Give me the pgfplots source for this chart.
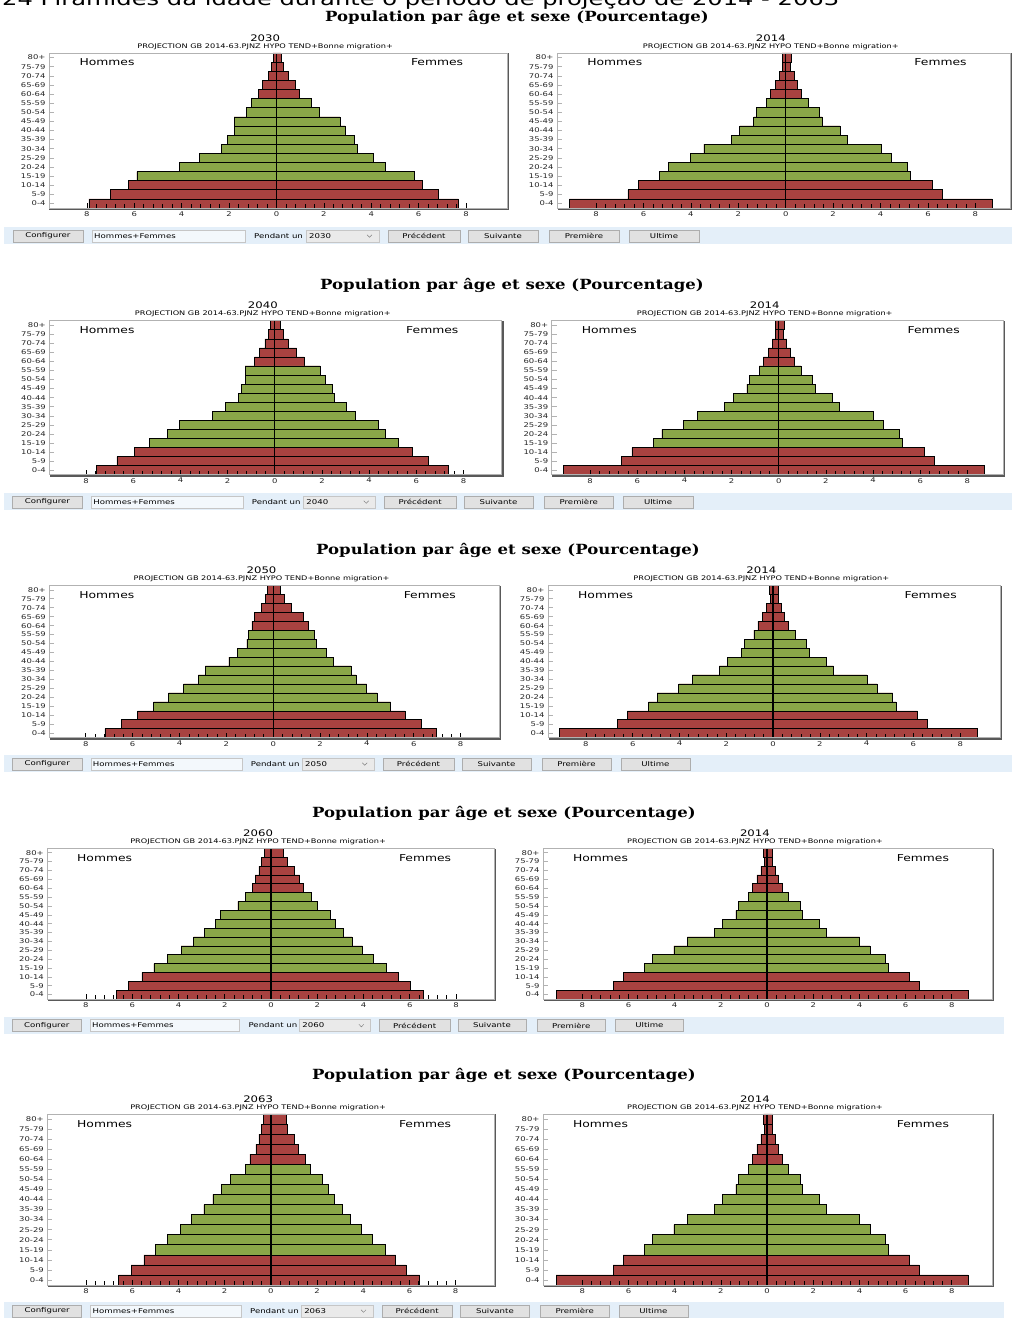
\documentclass[border=0pt]{standalone}
\usepackage{fontspec}
\setmainfont{DejaVu Sans}
\usepackage{pgfplots}
\pgfplotsset{compat=1.18}
\usepackage{pgfplotstable}
\newfontfamily\sw{DejaVu Sans}[FakeStretch=1.3]
\newfontfamily\tw{DejaVu Serif}[FakeStretch=1.18]
\definecolor{pred}{RGB}{168,66,64}
\definecolor{pgreen}{RGB}{138,166,72}
\definecolor{barbg}{RGB}{228,239,249}
\definecolor{btn}{RGB}{225,225,225}
\definecolor{btnb}{RGB}{173,173,173}

% a: age group index (0 = 0-4 ... 16 = 80+), m: men (negative), f: women
\pgfplotstableread{
a m f
0 -7.92 7.68
1 -7.01 6.83
2 -6.25 6.15
3 -5.89 5.83
4 -4.11 4.58
5 -3.24 4.07
6 -2.31 3.42
7 -2.08 3.27
8 -1.79 2.90
9 -1.79 2.68
10 -1.27 1.79
11 -1.06 1.45
12 -0.75 0.97
13 -0.61 0.80
14 -0.34 0.49
15 -0.20 0.28
16 -0.14 0.20
}\tabA
\pgfplotstableread{
a m f
0 -9.13 8.71
1 -6.66 6.60
2 -6.23 6.17
3 -5.32 5.25
4 -4.96 5.11
5 -4.03 4.45
6 -3.45 4.01
7 -2.29 2.58
8 -1.94 2.28
9 -1.35 1.53
10 -1.24 1.42
11 -0.82 0.94
12 -0.65 0.64
13 -0.44 0.50
14 -0.27 0.34
15 -0.13 0.21
16 -0.15 0.24
}\tabB
\pgfplotstableread{
a m f
0 -7.56 7.34
1 -6.69 6.50
2 -5.95 5.82
3 -5.30 5.24
4 -4.54 4.68
5 -4.03 4.40
6 -2.64 3.42
7 -2.08 3.04
8 -1.53 2.52
9 -1.43 2.42
10 -1.26 2.16
11 -1.26 1.92
12 -0.85 1.24
13 -0.65 0.93
14 -0.42 0.57
15 -0.27 0.37
16 -0.18 0.23
}\tabC
\pgfplotstableread{
a m f
0 -7.19 6.98
1 -6.48 6.32
2 -5.79 5.62
3 -5.11 5.01
4 -4.47 4.44
5 -3.83 3.99
6 -3.20 3.53
7 -2.90 3.32
8 -1.89 2.58
9 -1.52 2.28
10 -1.12 1.86
11 -1.05 1.75
12 -0.91 1.49
13 -0.80 1.28
14 -0.50 0.77
15 -0.34 0.46
16 -0.24 0.31
}\tabD
\pgfplotstableread{
a m f
0 -6.70 6.57
1 -6.15 6.02
2 -5.58 5.49
3 -5.06 4.97
4 -4.47 4.44
5 -3.89 3.95
6 -3.34 3.50
7 -2.87 3.13
8 -2.42 2.78
9 -2.19 2.58
10 -1.43 2.00
11 -1.10 1.73
12 -0.79 1.38
13 -0.69 1.24
14 -0.52 0.99
15 -0.43 0.72
16 -0.30 0.52
}\tabE
\pgfplotstableread{
a m f
0 -6.59 6.44
1 -6.05 5.86
2 -5.50 5.40
3 -4.99 4.94
4 -4.48 4.41
5 -3.93 3.93
6 -3.43 3.44
7 -2.90 3.08
8 -2.51 2.74
9 -2.13 2.48
10 -1.76 2.22
11 -1.11 1.69
12 -0.91 1.47
13 -0.65 1.17
14 -0.52 1.01
15 -0.40 0.72
16 -0.33 0.65
}\tabF

\pgfplotsset{pyr/.style={
  scale only axis, ymin=-0.5, ymax=16.5, clip=false,
  axis on top,
  axis line style={draw=gray!60, line width=0.8pt},
  xtick={-8,-6,-4,-2,0,2,4,6,8}, minor x tick num=4,
  tick pos=left, tick align=inside,
  major tick length=5pt, minor tick length=4pt,
  tick style={black, line width=0.7pt},
  y tick style={gray!60, line width=0.5pt},
  ytick={0,...,16},
  yticklabels={0-4,5-9,10-14,15-19,20-24,25-29,30-34,35-39,40-44,45-49,50-54,55-59,60-64,65-69,70-74,75-79,80+},
  xticklabel={\pgfmathparse{abs(\tick)}\pgfmathprintnumber[fixed,precision=0]{\pgfmathresult}},
  /pgf/number format/assume math mode=true,
  ticklabel style={font=\sw\fontsize{6.5}{7}\selectfont, text=black!85},
  bstyle/.style={xbar, bar width=1, bar shift=0pt, draw=black, line width=0.6pt},
}}

\newcommand{\pyr}[8]{%
\begin{axis}[pyr, at={(#1pt,#2pt)}, anchor=north west, width=#3pt, height=#4pt, xmin=#5, xmax=#6]
\addplot[bstyle, fill=pred] table[x=m, y=a]{#7};
\addplot[bstyle, fill=pgreen, restrict y to domain=2.5:11.5] table[x=m, y=a]{#7};
\addplot[bstyle, fill=pred] table[x=f, y=a]{#7};
\addplot[bstyle, fill=pgreen, restrict y to domain=2.5:11.5] table[x=f, y=a]{#7};
\draw[black, line width=1.3pt] (axis cs:0,-0.5) -- (axis cs:0,16.5);
\draw[gray!70!black, line width=1.6pt] ([xshift=1.2pt,yshift=-0.5pt]rel axis cs:1,1) -- ([xshift=1.2pt,yshift=-1.2pt]rel axis cs:1,0) -- ([xshift=0.5pt,yshift=-1.2pt]rel axis cs:0,0);
\node[font=\sw\fontsize{9.5}{10}\selectfont, anchor=west] at (axis description cs:0.059,0.938) {Hommes};
\node[font=\sw\fontsize{9.5}{10}\selectfont, anchor=east] at (axis description cs:0.912,0.938) {Femmes};
\node[font=\sw\fontsize{9}{10}\selectfont, yshift=15pt] at (axis description cs:0.472,1) {#8};
\node[font=\sw\fontsize{6.3}{7}\selectfont, yshift=6.5pt] at (axis description cs:0.472,1) {PROJECTION GB 2014-63.PJNZ HYPO TEND+Bonne migration+};
\end{axis}}

\newcommand{\btn}[4]{\draw[btnb, fill=btn] (#1,#3-6) rectangle (#2,#3+6);
\node[font=\sw\fontsize{6.6}{8}\selectfont] at ({(#1+#2)/2},#3) {#4};}

\newcommand{\bbar}[4]{%
\fill[barbg] (4,#1-8.5) rectangle (#4,#1+8.5);
\begin{scope}[xscale=#2]
\btn{12.7}{83}{#1}{Configurer}
\draw[btnb!70, fill=white!55!barbg] (92,#1-6) rectangle (245,#1+6);
\node[font=\sw\fontsize{6.6}{8}\selectfont, anchor=west, inner sep=0pt] at (94,#1) {Hommes+Femmes};
\node[font=\sw\fontsize{6.6}{8}\selectfont, anchor=west, inner sep=0pt] at (254,#1) {Pendant un};
\draw[btnb!70, fill=btn!70!white] (306,#1-6) rectangle (379,#1+6);
\node[font=\sw\fontsize{6.6}{8}\selectfont, anchor=west, inner sep=0pt] at (309,#1) {#3};
\draw[gray, line width=0.5pt] (367,#1+1.2) -- (369.5,#1-1.3) -- (372,#1+1.2);
\btn{388}{460}{#1}{Précédent}
\btn{468}{538}{#1}{Suivante}
\btn{549}{619}{#1}{Première}
\btn{629}{699}{#1}{Ultime}
\end{scope}}

\newcommand{\rtitle}[2]{\node[font=\tw\bfseries\fontsize{14}{16}\selectfont] at (#1,#2) {Population par âge et sexe (Pourcentage)};}

\begin{document}
\begin{tikzpicture}[x=1pt,y=1pt]
\useasboundingbox (0,0) rectangle (1012,1318);
\clip (0,0) rectangle (1012,1318);
\fill[white] (0,0) rectangle (1012,1318);
\node[font=\sw\fontsize{18.6}{20}\selectfont, anchor=base west, inner sep=0pt] at (2,1312.5) {24 Pirâmides da idade durante o período de projeção de 2014 - 2063};

\rtitle{517}{1301}
\rtitle{512}{1033}
\rtitle{508}{768}
\rtitle{504}{505}
\rtitle{504}{243}

\pyr{49}{1265}{458}{155}{-9.6}{9.73}{\tabA}{2030}
\pyr{557}{1265}{453}{155}{-9.65}{9.46}{\tabB}{2014}
\pyr{49.3}{997.3}{452.4}{154}{-9.56}{9.62}{\tabC}{2040}
\pyr{551.7}{997.3}{451.3}{154}{-9.63}{9.51}{\tabB}{2014}
\pyr{49.3}{732.7}{449.7}{152.4}{-9.56}{9.64}{\tabD}{2050}
\pyr{548}{732.7}{452}{152.4}{-9.62}{9.7}{\tabB}{2014}
\pyr{47.3}{469.7}{446.7}{150.7}{-9.67}{9.64}{\tabE}{2060}
\pyr{543}{469.7}{449}{150.7}{-9.7}{9.74}{\tabB}{2014}
\pyr{47.3}{204}{446.7}{171}{-9.68}{9.66}{\tabF}{2063}
\pyr{543}{204}{449}{171}{-9.7}{9.74}{\tabB}{2014}

\bbar{1082}{1}{2030}{1012}
\bbar{816}{0.991}{2040}{1012}
\bbar{554}{0.987}{2050}{1012}
\bbar{292.5}{0.978}{2060}{1004}
\bbar{7}{0.984}{2063}{1004}
\end{tikzpicture}
\end{document}
